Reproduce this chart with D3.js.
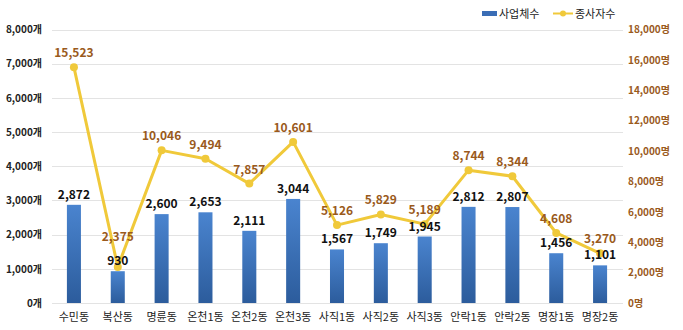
<!DOCTYPE html>
<html><head><meta charset="utf-8">
<script src="https://cdn.jsdelivr.net/npm/d3@7"></script>
<style>body{margin:0;background:#fff}svg{display:block}</style>
</head><body>
<svg id="c" width="683" height="330"></svg>
<script>
const categories = ["수민동","복산동","명륜동","온천1동","온천2동","온천3동","사직1동","사직2동","사직3동","안락1동","안락2동","명장1동","명장2동"];
const businesses = [2872,930,2600,2653,2111,3044,1567,1749,1945,2812,2807,1456,1101];
const workers = [15523,2375,10046,9494,7857,10601,5126,5829,5189,8744,8344,4608,3270];
const leftTicks = [0,1000,2000,3000,4000,5000,6000,7000,8000];
const rightTicks = [0,2000,4000,6000,8000,10000,12000,14000,16000,18000];
const seriesNames = ["사업체수","종사자수"];

const svg = d3.select("#c");
const font = "'Noto Sans CJK KR', 'Noto Sans', sans-serif";
const L = 52, R = 622, T = 29.5, B = 303;
const x = d3.scaleBand().domain(categories).range([L, R]).paddingInner(0.68).paddingOuter(0.34);
const yL = d3.scaleLinear().domain([0, 8000]).range([B, T]);
const yR = d3.scaleLinear().domain([0, 18000]).range([B, T]);
const fmt = d3.format(",");

const defs = svg.append("defs");
const g = defs.append("linearGradient").attr("id","bg").attr("x1",0).attr("y1",0).attr("x2",0).attr("y2",1);
g.append("stop").attr("offset","0%").attr("stop-color","#4a84cf");
g.append("stop").attr("offset","100%").attr("stop-color","#2c5c9c");

// gridlines
svg.append("g").selectAll("line").data(leftTicks).join("line")
  .attr("x1", L).attr("x2", R+1).attr("y1", d => Math.round(yL(d))+0.5).attr("y2", d => Math.round(yL(d))+0.5)
  .attr("stroke", "#e3e3e3").attr("stroke-width", 1);

// left axis
const ax = svg.append("g").attr("transform", `translate(${L},0)`)
  .call(d3.axisLeft(yL).tickValues(leftTicks).tickSize(0).tickPadding(10).tickFormat(d => fmt(d) + "개"));
ax.select(".domain").remove();
ax.selectAll("text").attr("font-family", font).attr("font-size", 10).attr("font-weight", "bold").attr("fill", "#222");

// right axis
const ar = svg.append("g").attr("transform", `translate(${R},0)`)
  .call(d3.axisRight(yR).tickValues(rightTicks).tickSize(0).tickPadding(6).tickFormat(d => fmt(d) + "명"));
ar.select(".domain").remove();
ar.selectAll("text").attr("font-family", font).attr("font-size", 10).attr("font-weight", "bold").attr("fill", "#9a5a1c");

// x axis
const axx = svg.append("g").attr("transform", `translate(0,${B})`)
  .call(d3.axisBottom(x).tickSize(0).tickPadding(10));
axx.select(".domain").remove();
axx.selectAll("text").attr("font-family", font).attr("font-size", 11).attr("fill", "#222");

// bars
svg.append("g").selectAll("rect").data(businesses).join("rect")
  .attr("x", (d,i) => x(categories[i])).attr("width", x.bandwidth())
  .attr("y", d => yL(d)).attr("height", d => B - yL(d)).attr("fill", "url(#bg)");

const barLabelY = d => yL(d) - 6;

// line
const cx = (i) => x(categories[i]) + x.bandwidth()/2;
const line = d3.line().x((d,i) => cx(i)).y(d => yR(d));
svg.append("path").datum(workers).attr("d", line).attr("fill", "none")
  .attr("stroke", "#f0c93a").attr("stroke-width", 3).attr("stroke-linejoin", "round");
svg.append("g").selectAll("circle").data(workers).join("circle")
  .attr("cx", (d,i) => cx(i)).attr("cy", d => yR(d)).attr("r", 4).attr("fill", "#f0c93a");

// bar labels (drawn over the line)
svg.append("g").selectAll("text").data(businesses).join("text")
  .attr("x", (d,i) => x(categories[i]) + x.bandwidth()/2).attr("y", barLabelY)
  .attr("text-anchor", "middle").attr("font-family", font).attr("font-size", 12).attr("font-weight", "bold")
  .attr("fill", "#111").text(d => fmt(d));

const lineLabelY = (d, i) => {
  const y = yR(d) - 10, by = barLabelY(businesses[i]);
  return Math.abs(y - by) < 16 ? by - 24 : y;
};
svg.append("g").selectAll("text").data(workers).join("text")
  .attr("x", (d,i) => cx(i)).attr("y", lineLabelY)
  .attr("text-anchor", "middle").attr("font-family", font).attr("font-size", 12).attr("font-weight", "bold")
  .attr("fill", "#9a5a1c").text(d => fmt(d));

// legend
const lg = svg.append("g");
lg.append("rect").attr("x", 482).attr("y", 11).attr("width", 15).attr("height", 5).attr("fill", "#3a6db5");
lg.append("text").attr("x", 499).attr("y", 18).attr("font-family", font).attr("font-size", 11).attr("fill", "#222").text(seriesNames[0]);
lg.append("line").attr("x1", 553).attr("x2", 573).attr("y1", 13.5).attr("y2", 13.5).attr("stroke", "#f0c93a").attr("stroke-width", 2);
lg.append("circle").attr("cx", 563).attr("cy", 13.5).attr("r", 3).attr("fill", "#f0c93a");
lg.append("text").attr("x", 575).attr("y", 18).attr("font-family", font).attr("font-size", 11).attr("fill", "#222").text(seriesNames[1]);
</script>
</body></html>
